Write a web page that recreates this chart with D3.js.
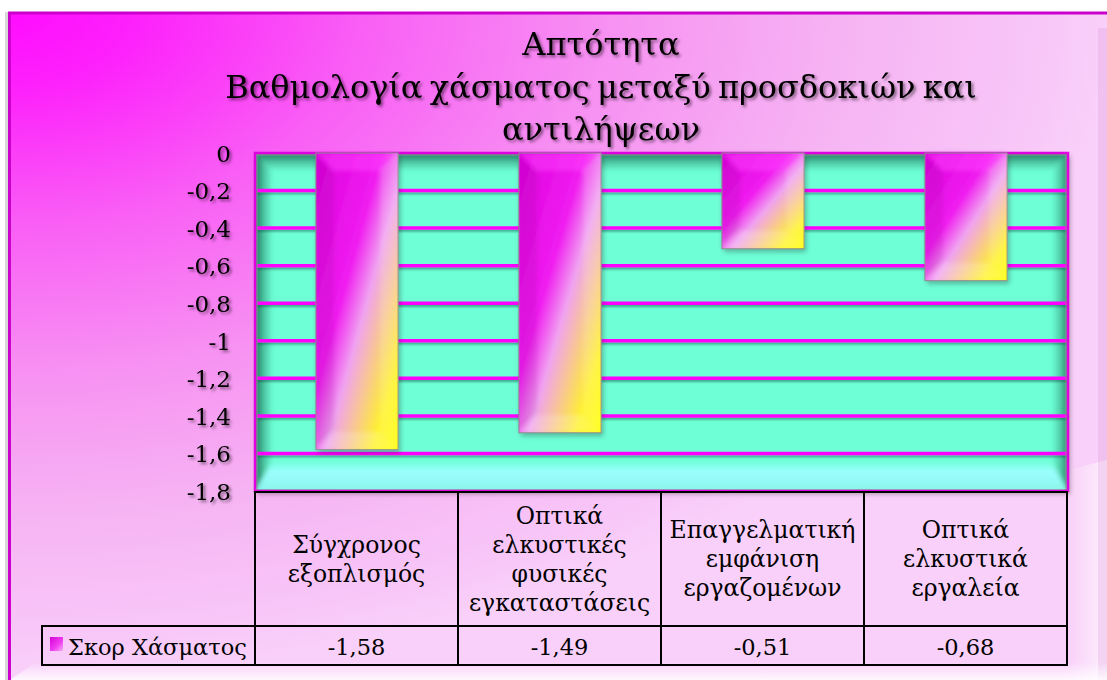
<!DOCTYPE html>
<html>
<head>
<meta charset="utf-8">
<script src="https://cdn.jsdelivr.net/npm/d3@7"></script>
<style>
  html, body { margin: 0; padding: 0; background: #ffffff; }
  svg { display: block; }
</style>
</head>
<body>
<svg id="chart" width="1107" height="680"></svg>
<script>
// ---- data ----
const titleLines = ["Απτότητα", "Βαθμολογία χάσματος μεταξύ προσδοκιών και", "αντιλήψεων"];
const categories = [
  "Σύγχρονος εξοπλισμός",
  "Οπτικά ελκυστικές φυσικές εγκαταστάσεις",
  "Επαγγελματική εμφάνιση εργαζομένων",
  "Οπτικά ελκυστικά εργαλεία"
];
const categoryLines = [
  ["Σύγχρονος", "εξοπλισμός"],
  ["Οπτικά", "ελκυστικές", "φυσικές", "εγκαταστάσεις"],
  ["Επαγγελματική", "εμφάνιση", "εργαζομένων"],
  ["Οπτικά", "ελκυστικά", "εργαλεία"]
];
const seriesName = "Σκορ Χάσματος";
const gapScores = [-1.58, -1.49, -0.51, -0.68];
const yTicks = [0, -0.2, -0.4, -0.6, -0.8, -1, -1.2, -1.4, -1.6, -1.8];

// ---- layout ----
const W = 1107, H = 680;
const plot = { left: 255, top: 153, right: 1068, bottom: 491 };
const table = { top: 492, mid: 626, bottom: 665, legendLeft: 42 };
const FONT = "'DejaVu Serif', 'Liberation Serif', serif";

const locale = d3.formatLocale({ decimal: ",", thousands: ".", grouping: [3], currency: ["", "€"], minus: "-" });
const fmtTick = locale.format("~g");
const fmtValue = locale.format(".2f");

const svg = d3.select("#chart");
const defs = svg.append("defs");

// background of the chart frame: magenta burst from the top-left corner
const bg = defs.append("radialGradient").attr("id", "bgGrad")
  .attr("gradientUnits", "userSpaceOnUse")
  .attr("cx", 8).attr("cy", 12).attr("r", 1100)
  .attr("gradientTransform", "translate(8,12) scale(1,0.6) translate(-8,-12)");
[[0, "#ff0cff"], [0.12, "#fd22fb"], [0.32, "#f95ef5"], [0.55, "#f792f2"], [0.75, "#f6b2f3"], [0.95, "#f8c8f8"], [1, "#f9d0f9"]]
  .forEach(([o, c]) => bg.append("stop").attr("offset", o).attr("stop-color", c));

// bar fill: magenta -> pink -> yellow along the diagonal
const barGrad = defs.append("linearGradient").attr("id", "barGrad")
  .attr("x1", 0).attr("y1", 0).attr("x2", 1).attr("y2", 1);
[[0, "#dc00dc"], [0.4, "#f01cf0"], [0.56, "#f0a2f0"], [0.7, "#f8c890"], [0.85, "#fff22a"], [1, "#ffff00"]]
  .forEach(([o, c]) => barGrad.append("stop").attr("offset", o).attr("stop-color", c));

// legend swatch
const swGrad = defs.append("linearGradient").attr("id", "swGrad")
  .attr("x1", 0).attr("y1", 0).attr("x2", 1).attr("y2", 1);
[[0, "#d800d8"], [0.6, "#f040f0"], [1, "#f8b0f8"]]
  .forEach(([o, c]) => swGrad.append("stop").attr("offset", o).attr("stop-color", c));

function lGrad(id, stops, x1, y1, x2, y2) {
  const g = defs.append("linearGradient").attr("id", id).attr("gradientUnits", "userSpaceOnUse")
    .attr("x1", x1).attr("y1", y1).attr("x2", x2).attr("y2", y2);
  stops.forEach(([o, c, a]) => g.append("stop").attr("offset", o).attr("stop-color", c).attr("stop-opacity", a));
}
// plot-wall bevel shading
lGrad("wallTop", [[0, "#1a6650", 1], [0.4, "#2a8a6c", 0.6], [1, "#2a8a6c", 0]], 0, plot.top, 0, plot.top + 18);
lGrad("wallLeft", [[0, "#1a6650", 1], [0.4, "#2a8a6c", 0.6], [1, "#2a8a6c", 0]], plot.left, 0, plot.left + 18, 0);
lGrad("wallRight", [[0, "#1a6650", 0.9], [0.4, "#2a8a6c", 0.5], [1, "#2a8a6c", 0]], plot.right, 0, plot.right - 16, 0);
lGrad("wallFloor", [[0, "#9cffff", 0], [0.35, "#9cffff", 1], [1, "#8cf4ea", 1]], 0, plot.bottom - 30, 0, plot.bottom);
// frame edges
lGrad("frameBottom", [[0, "#ffffff", 0], [1, "#ffffff", 0.85]], 0, 662, 0, 680);
lGrad("frameRight", [[0, "#ffffff", 0], [1, "#ffffff", 0.55]], 1068, 0, 1100, 0);

// filters
const ts = defs.append("filter").attr("id", "textShadow").attr("x", "-10%").attr("y", "-30%").attr("width", "130%").attr("height", "170%");
ts.append("feDropShadow").attr("dx", 2).attr("dy", 2).attr("stdDeviation", 1.4)
  .attr("flood-color", "#000").attr("flood-opacity", 0.5);
const ds = defs.append("filter").attr("id", "dropShadow").attr("x", "-5%").attr("y", "-5%").attr("width", "115%").attr("height", "120%");
ds.append("feDropShadow").attr("dx", 2).attr("dy", 3).attr("stdDeviation", 2.5)
  .attr("flood-color", "#000").attr("flood-opacity", 0.3);
const ls = defs.append("filter").attr("id", "lineShadow").attr("x", "-2%").attr("y", "-50%").attr("width", "104%").attr("height", "300%");
ls.append("feDropShadow").attr("dx", 0).attr("dy", 2).attr("stdDeviation", 1.2)
  .attr("flood-color", "#0a4a38").attr("flood-opacity", 0.45);
const soft = defs.append("filter").attr("id", "soft");
soft.append("feGaussianBlur").attr("stdDeviation", 2);

defs.append("clipPath").attr("id", "plotClip").append("rect")
  .attr("x", plot.left).attr("y", plot.top)
  .attr("width", plot.right - plot.left).attr("height", plot.bottom - plot.top);

// ---- frame ----
svg.append("rect").attr("x", 5).attr("y", 12).attr("width", 4).attr("height", H).attr("fill", "#d8d8d8");
svg.append("rect").attr("x", 8).attr("y", 12).attr("width", W + 100).attr("height", H + 40).attr("fill", "url(#bgGrad)");
svg.append("polygon").attr("points", `1068,470 1107,460 1107,${H} 1068,${H}`).attr("fill", "url(#frameRight)");
svg.append("rect").attr("x", 1098).attr("y", 28).attr("width", 9).attr("height", H).attr("fill", "#d890d4").attr("opacity", 0.25);
svg.append("polygon").attr("points", `10,${H} 36,662 ${W},662 ${W},${H}`).attr("fill", "url(#frameBottom)");
svg.append("line").attr("x1", 8).attr("x2", W).attr("y1", 13).attr("y2", 13).attr("stroke", "#cc00cc").attr("stroke-width", 3);
svg.append("line").attr("x1", 9.5).attr("x2", 9.5).attr("y1", 12).attr("y2", H).attr("stroke", "#cc00cc").attr("stroke-width", 3);

// ---- title ----
const title = svg.append("g").attr("filter", "url(#textShadow)");
title.selectAll("text").data(titleLines).join("text")
  .attr("x", 601).attr("y", (d, i) => 55 + i * 42.5)
  .attr("text-anchor", "middle")
  .attr("font-family", FONT).attr("font-size", 32).attr("word-spacing", -3).attr("fill", "#000")
  .text(d => d);

// ---- scales ----
const x = d3.scaleBand().domain(categories).range([plot.left, plot.right - 1]);
const y = d3.scaleLinear().domain([-1.8, 0]).range([plot.bottom, plot.top]);
const bw = x.bandwidth();

// ---- plot wall ----
const wall = svg.append("g");
wall.append("rect")
  .attr("x", plot.left).attr("y", plot.top)
  .attr("width", plot.right - plot.left).attr("height", plot.bottom - plot.top)
  .attr("fill", "#6effd6").attr("filter", "url(#dropShadow)");
const bevel = wall.append("g").attr("clip-path", "url(#plotClip)").append("g").attr("filter", "url(#soft)");
const L = plot.left, T = plot.top, R = plot.right, B = plot.bottom, d = 18, db = 30;
bevel.append("polygon").attr("points", `${L},${B} ${L + d},${B - db} ${R - d},${B - db} ${R},${B}`).attr("fill", "url(#wallFloor)");
bevel.append("polygon").attr("points", `${L},${T} ${R},${T} ${R - d},${T + d} ${L + d},${T + d}`).attr("fill", "url(#wallTop)");
bevel.append("polygon").attr("points", `${L},${T} ${L + d},${T + d} ${L + d},${B - db} ${L},${B}`).attr("fill", "url(#wallLeft)");
bevel.append("polygon").attr("points", `${R},${T} ${R},${B} ${R - d},${B - db} ${R - d},${T + d}`).attr("fill", "url(#wallRight)");

// gridlines
svg.append("g").attr("filter", "url(#lineShadow)")
  .selectAll("line").data(yTicks.filter(t => t !== 0 && t !== -1.8)).join("line")
  .attr("x1", plot.left + 2).attr("x2", plot.right - 1)
  .attr("y1", t => y(t)).attr("y2", t => y(t))
  .attr("stroke", "#ff00ff").attr("stroke-width", 3.5);

// wall outline
svg.append("rect")
  .attr("x", plot.left + 2).attr("y", plot.top + 2)
  .attr("width", plot.right - plot.left - 4).attr("height", plot.bottom - plot.top - 3)
  .attr("fill", "none").attr("stroke", "#8a8a8a").attr("stroke-width", 1);
svg.append("rect")
  .attr("x", plot.left).attr("y", plot.top)
  .attr("width", plot.right - plot.left).attr("height", plot.bottom - plot.top)
  .attr("fill", "none").attr("stroke", "#e000e0").attr("stroke-width", 2.5);

// ---- bars ----
const bars = svg.append("g").selectAll("g").data(gapScores).join("g");
bars.each(function (v, i) {
  const g = d3.select(this);
  const bx = x(categories[i]) + bw * 0.3;
  const bwid = bw * 0.405;
  const by = y(0), bh = y(v) - y(0);
  g.append("rect").attr("x", bx).attr("y", by).attr("width", bwid).attr("height", bh)
    .attr("fill", "url(#barGrad)").attr("filter", "url(#dropShadow)");
  // bevelled edges
  const e = Math.min(18, bwid / 4, bh / 4);
  const x0 = bx, x1 = bx + bwid, y0 = by, y1 = by + bh;
  const bev = g.append("g").attr("filter", "url(#soft)");
  bev.append("polygon").attr("points", `${x0},${y0} ${x1},${y0} ${x1 - e},${y0 + e} ${x0 + e},${y0 + e}`).attr("fill", "#ff40ff").attr("opacity", 0.5);
  bev.append("polygon").attr("points", `${x0},${y0} ${x0 + e},${y0 + e} ${x0 + e},${y1 - e} ${x0},${y1}`).attr("fill", "#600060").attr("opacity", 0.1);
  bev.append("polygon").attr("points", `${x1},${y0} ${x1},${y1} ${x1 - e},${y1 - e} ${x1 - e},${y0 + e}`).attr("fill", "#ffffff").attr("opacity", 0.15);
  bev.append("polygon").attr("points", `${x0},${y1} ${x0 + e},${y1 - e} ${x1 - e},${y1 - e} ${x1},${y1}`).attr("fill", "#ffffff").attr("opacity", 0.2);
  g.append("rect").attr("x", bx).attr("y", by).attr("width", bwid).attr("height", bh)
    .attr("fill", "none").attr("stroke", "#8c8c8c").attr("stroke-width", 1);
});

// ---- y axis ----
const yAxis = svg.append("g")
  .attr("transform", `translate(${plot.left - 24},0)`)
  .attr("filter", "url(#textShadow)")
  .call(d3.axisLeft(y).tickValues(yTicks).tickFormat(fmtTick).tickSize(0).tickPadding(0));
yAxis.select(".domain").remove();
yAxis.selectAll("text")
  .attr("font-family", FONT).attr("font-size", 23).attr("fill", "#000")
  .attr("dy", "0.36em");

// ---- data table ----
const tbl = svg.append("g");
tbl.selectAll("text.cat").data(categoryLines).join("text")
  .attr("class", "cat")
  .attr("text-anchor", "middle")
  .attr("font-family", FONT).attr("font-size", 23.5).attr("fill", "#000")
  .each(function (lines, i) {
    const cx = x(categories[i]) + bw / 2;
    const mid = (table.top + table.mid) / 2;
    const lh = 29;
    d3.select(this).selectAll("tspan").data(lines).join("tspan")
      .attr("x", cx)
      .attr("y", (l, k) => mid - (lines.length - 1) / 2 * lh + 8 + k * lh)
      .text(l => l);
  });
tbl.selectAll("text.val").data(gapScores).join("text")
  .attr("class", "val")
  .attr("x", (v, i) => x(categories[i]) + bw / 2)
  .attr("y", (table.mid + table.bottom) / 2 + 9)
  .attr("text-anchor", "middle")
  .attr("font-family", FONT).attr("font-size", 22.5).attr("fill", "#000")
  .text(v => fmtValue(v));

// legend key inside the table
tbl.append("rect").attr("x", 50).attr("y", 637).attr("width", 13).attr("height", 14)
  .attr("fill", "url(#swGrad)");
tbl.append("text").attr("x", 68).attr("y", (table.mid + table.bottom) / 2 + 9)
  .attr("font-family", FONT).attr("font-size", 22.5).attr("fill", "#000")
  .text(seriesName);

// table rules
const rules = [];
rules.push([plot.left, table.top, x.range()[1], table.top]);
rules.push([table.legendLeft, table.mid, x.range()[1], table.mid]);
rules.push([table.legendLeft, table.bottom, x.range()[1], table.bottom]);
rules.push([table.legendLeft, table.mid, table.legendLeft, table.bottom]);
categories.forEach(c => rules.push([x(c), table.top, x(c), table.bottom]));
rules.push([x.range()[1], table.top, x.range()[1], table.bottom]);
tbl.selectAll("line").data(rules).join("line")
  .attr("x1", r => r[0]).attr("y1", r => r[1]).attr("x2", r => r[2]).attr("y2", r => r[3])
  .attr("stroke", "#000").attr("stroke-width", 2).attr("stroke-linecap", "square");
</script>
</body>
</html>
